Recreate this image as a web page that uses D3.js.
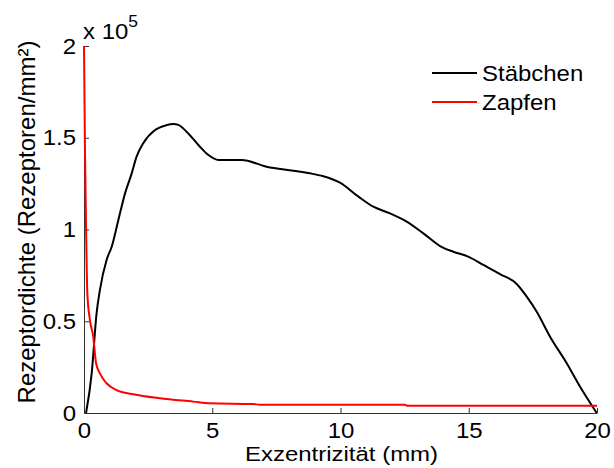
<!DOCTYPE html>
<html><head><meta charset="utf-8">
<script src="https://cdn.jsdelivr.net/npm/d3@7"></script>
<style>body{margin:0;background:#fff}svg{display:block}text{font-family:"Liberation Sans",Arial,sans-serif;fill:#000}</style>
</head><body><svg id="c" width="614" height="468"></svg>
<script>
const xTicks=[0,5,10,15,20];
const yTicks=[0,0.5,1,1.5,2];
const yTickLabels=["0","0.5","1","1.5","2"];
const seriesNames=["Stäbchen","Zapfen"];
const seriesColors=["#000000","#ff0000"];
const rodX=[0.08,0.3,0.49,0.62,0.88,1.08,1.34,1.6,1.86,2.05,2.31,2.77,3.2,3.48,3.68,4.0,4.52,4.85,5.24,6.15,7.12,8.16,8.81,9.33,9.98,10.7,11.28,11.93,12.58,13.23,13.88,14.4,14.98,15.57,16.22,16.87,17.26,17.65,18.17,18.82,19.34,19.99];
const rodY=[0,0.216,0.543,0.67,0.834,0.906,1.052,1.197,1.306,1.397,1.47,1.542,1.568,1.575,1.57,1.533,1.451,1.406,1.379,1.379,1.342,1.32,1.306,1.29,1.255,1.179,1.124,1.088,1.043,0.979,0.91,0.879,0.852,0.807,0.757,0.703,0.634,0.552,0.416,0.271,0.143,0];
const coneX=[0,0.04,0.08,0.13,0.23,0.36,0.47,0.62,0.88,1.27,1.92,2.96,4.26,4.91,6.6,6.86,12.5,12.6,20];
const coneY=[2.0,1.415,1.015,0.652,0.507,0.416,0.271,0.216,0.162,0.125,0.102,0.08,0.062,0.053,0.049,0.045,0.045,0.04,0.04];

const svg=d3.select("#c");
const x=d3.scaleLinear().domain([0,20]).range([84,597]);
const y=d3.scaleLinear().domain([0,2]).range([413,46]);
const fs=22, sx=1.09;

const gx=svg.append("g").attr("transform","translate(0,413)")
 .call(d3.axisBottom(x).tickValues(xTicks).tickSizeInner(-5).tickSizeOuter(0).tickPadding(9).tickFormat(d3.format("d")));
const gy=svg.append("g").attr("transform","translate(84,0)")
 .call(d3.axisLeft(y).tickValues(yTicks).tickSizeInner(-5).tickSizeOuter(0).tickPadding(8).tickFormat((d,i)=>yTickLabels[i]));
[gx,gy].forEach(g=>{g.selectAll("path,line").attr("stroke","#333").attr("stroke-width",1);
 g.selectAll("text").attr("font-size",fs).attr("font-family","Liberation Sans, Arial, sans-serif").attr("fill","#000");});
gx.selectAll("text").attr("y",0).attr("dy",0).attr("transform",`translate(0,24.5) scale(${sx},1)`);
gy.selectAll("text").attr("x",0).attr("transform",`translate(-8,0) scale(${sx},1)`);

const line=d3.line().x(d=>x(d[0])).y(d=>y(d[1])).curve(d3.curveMonotoneX);
const series=[d3.zip(rodX,rodY),d3.zip(coneX,coneY)];
series.forEach((s,i)=>svg.append("path").datum(s).attr("d",line).attr("fill","none")
 .attr("stroke",seriesColors[i]).attr("stroke-width",2).attr("stroke-linejoin","round"));

// exponent
const ex=svg.append("text").attr("transform",`translate(83,38.5) scale(${sx},1)`).attr("font-size",fs);
ex.append("tspan").text("x 10");
ex.append("tspan").attr("dy",-11.5).attr("font-size",16).text("5");

// axis labels
svg.append("text").attr("transform",`translate(341.5,461) scale(1.17,1)`).attr("text-anchor","middle").attr("font-size",20.5).text("Exzentrizität (mm)");
svg.append("text").attr("transform","translate(35,222) rotate(-90)").attr("text-anchor","middle").attr("font-size",24).text("Rezeptordichte (Rezeptoren/mm²)");

// legend
seriesNames.forEach((n,i)=>{
 const ly=73+i*29;
 svg.append("line").attr("x1",432).attr("x2",477).attr("y1",ly).attr("y2",ly).attr("stroke",seriesColors[i]).attr("stroke-width",2);
 svg.append("text").attr("transform",`translate(482,${ly+7.5}) scale(${sx},1)`).attr("font-size",fs).text(n);
});
</script></body></html>
